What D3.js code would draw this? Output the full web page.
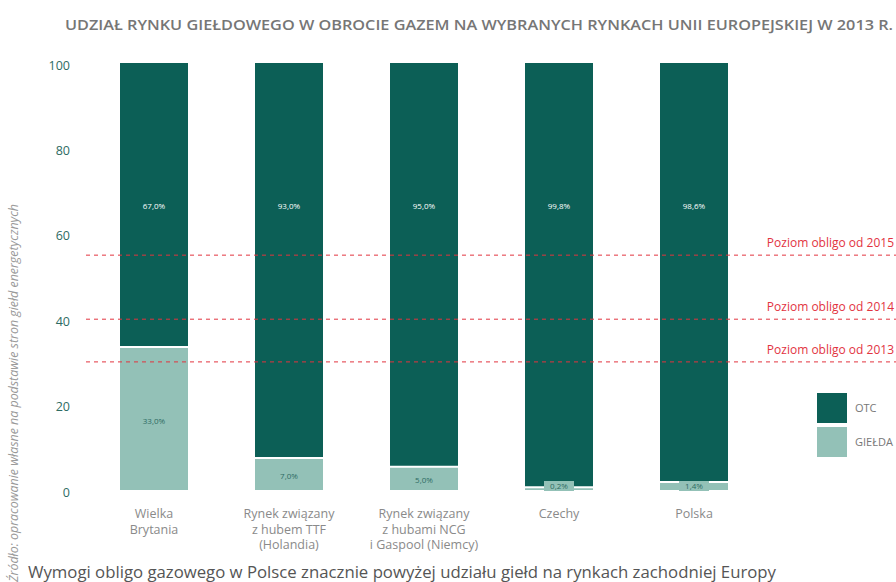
<!DOCTYPE html>
<head>
  <meta charset="utf-8">
  <script src="https://d3js.org/d3.v7.min.js"></script>
  <style>
    body { margin:0; background:#fff; }
    svg { display:block; }
  </style>
</head>
<body>
  <svg width="896" height="582"></svg>
  <script>
    var categories = [
      ['Wielka', 'Brytania'],
      ['Rynek związany', 'z hubem TTF', '(Holandia)'],
      ['Rynek związany', 'z hubami NCG', 'i Gaspool (Niemcy)'],
      ['Czechy'],
      ['Polska']
    ];
    var otc = [67.0, 93.0, 95.0, 99.8, 98.6];
    var gielda = [33.0, 7.0, 5.0, 0.2, 1.4];
    var yTicks = [0, 20, 40, 60, 80, 100];
    var obligo = [
      {value: 55, label: 'Poziom obligo od 2015'},
      {value: 40, label: 'Poziom obligo od 2014'},
      {value: 30, label: 'Poziom obligo od 2013'}
    ];
    var legendItems = ['OTC', 'GIEŁDA'];

    var dark = '#0c5f56', light = '#93c1b7', red = '#e2343f';
    var fmt = v => v.toFixed(1).replace('.', ',') + '%';
    var font = '"Open Sans", sans-serif';

    var svg = d3.select('svg');

    var x = d3.scalePoint()
      .domain(d3.range(categories.length))
      .range([154, 694]);
    var barW = 68;

    var y = d3.scaleLinear()
      .domain([0, 100])
      .range([490, 63]);

    // title
    svg.append('text')
      .attr('x', 65).attr('y', 30)
      .attr('font-family', font)
      .attr('font-weight', 600)
      .attr('font-size', 14)
      .attr('fill', '#767676')
      .attr('textLength', 828)
      .attr('lengthAdjust', 'spacingAndGlyphs')
      .text('UDZIAŁ RYNKU GIEŁDOWEGO W OBROCIE GAZEM NA WYBRANYCH RYNKACH UNII EUROPEJSKIEJ  W 2013 R.');

    // y axis (labels only)
    var yAxis = d3.axisLeft(y).tickValues(yTicks).tickSize(0).tickPadding(0);
    var gy = svg.append('g')
      .attr('transform', 'translate(70,2)')
      .call(yAxis);
    gy.select('.domain').remove();
    gy.selectAll('text')
      .attr('font-family', font)
      .attr('font-size', 12.5)
      .attr('fill', '#2d6b63');

    // bars
    var g = svg.append('g');
    g.selectAll('rect.otc')
      .data(otc)
      .enter().append('rect')
      .attr('class', 'otc')
      .attr('x', (d, i) => x(i) - barW / 2)
      .attr('y', y(100))
      .attr('width', barW)
      .attr('height', (d, i) => y(gielda[i]) - y(100))
      .attr('fill', dark);

    g.selectAll('rect.gielda')
      .data(gielda)
      .enter().append('rect')
      .attr('class', 'gielda')
      .attr('x', (d, i) => x(i) - barW / 2)
      .attr('y', d => y(d) - 2)
      .attr('width', barW)
      .attr('height', d => y(0) - y(d) + 2)
      .attr('fill', light);

    // white separator
    g.selectAll('line.sep')
      .data(gielda)
      .enter().append('line')
      .attr('x1', (d, i) => x(i) - barW / 2)
      .attr('x2', (d, i) => x(i) + barW / 2)
      .attr('y1', d => y(d) - 2)
      .attr('y2', d => y(d) - 2)
      .attr('stroke', '#fff')
      .attr('stroke-width', 2);

    // OTC labels
    g.selectAll('text.otcl')
      .data(otc)
      .enter().append('text')
      .attr('x', (d, i) => x(i))
      .attr('y', y(66.5) + 3)
      .attr('text-anchor', 'middle')
      .attr('font-family', font)
      .attr('font-size', 8)
      .attr('fill', '#fff')
      .text(fmt);

    // gielda labels
    gielda.forEach((d, i) => {
      var small = d < 3;
      var cy = small ? y(0) - 4 : (y(d) + y(0)) / 2 + 1;
      if (small) {
        g.append('rect')
          .attr('x', x(i) - 15).attr('y', cy - 5)
          .attr('width', 30).attr('height', 10)
          .attr('fill', light);
      }
      g.append('text')
        .attr('x', x(i)).attr('y', cy + 3)
        .attr('text-anchor', 'middle')
        .attr('font-family', font)
        .attr('font-size', 8)
        .attr('fill', '#2d6b63')
        .text(fmt(d));
    });

    // category labels
    categories.forEach((lines, i) => {
      var t = svg.append('text')
        .attr('text-anchor', 'middle')
        .attr('font-family', font)
        .attr('font-size', 12.5)
        .attr('fill', '#8a8a8a');
      lines.forEach((l, j) => {
        t.append('tspan').attr('x', x(i)).attr('y', 518 + j * 15.5).text(l);
      });
    });

    // obligo lines
    obligo.forEach(o => {
      svg.append('line')
        .attr('x1', 86).attr('x2', 896)
        .attr('y1', y(o.value)).attr('y2', y(o.value))
        .attr('stroke', red)
        .attr('stroke-width', 1)
        .attr('stroke-dasharray', '4,4');
      svg.append('text')
        .attr('x', 894).attr('y', y(o.value) - 8)
        .attr('text-anchor', 'end')
        .attr('font-family', font)
        .attr('font-size', 12)
        .attr('fill', red)
        .text(o.label);
    });

    // legend
    var lg = svg.append('g').attr('transform', 'translate(817,393)');
    legendItems.forEach((k, i) => {
      lg.append('rect')
        .attr('x', 0).attr('y', i * 34)
        .attr('width', 30).attr('height', 30)
        .attr('fill', i ? light : dark);
      lg.append('text')
        .attr('x', 38).attr('y', i * 34 + 19)
        .attr('font-family', font)
        .attr('font-size', 11)
        .attr('fill', '#777')
        .text(k);
    });

    // source (rotated)
    svg.append('text')
      .attr('transform', 'translate(18,582) rotate(-90)')
      .attr('font-family', font)
      .attr('font-style', 'italic')
      .attr('font-size', 12)
      .attr('fill', '#999')
      .attr('textLength', 378)
      .attr('lengthAdjust', 'spacingAndGlyphs')
      .text('Źródło: opracowanie własne na podstawie stron giełd energetycznych');

    // bottom note
    svg.append('text')
      .attr('x', 28).attr('y', 578)
      .attr('font-family', font)
      .attr('font-size', 16)
      .attr('fill', '#555')
      .attr('textLength', 748)
      .attr('lengthAdjust', 'spacingAndGlyphs')
      .text('Wymogi obligo gazowego w Polsce znacznie powyżej udziału giełd na rynkach zachodniej Europy');
  </script>
</body>
